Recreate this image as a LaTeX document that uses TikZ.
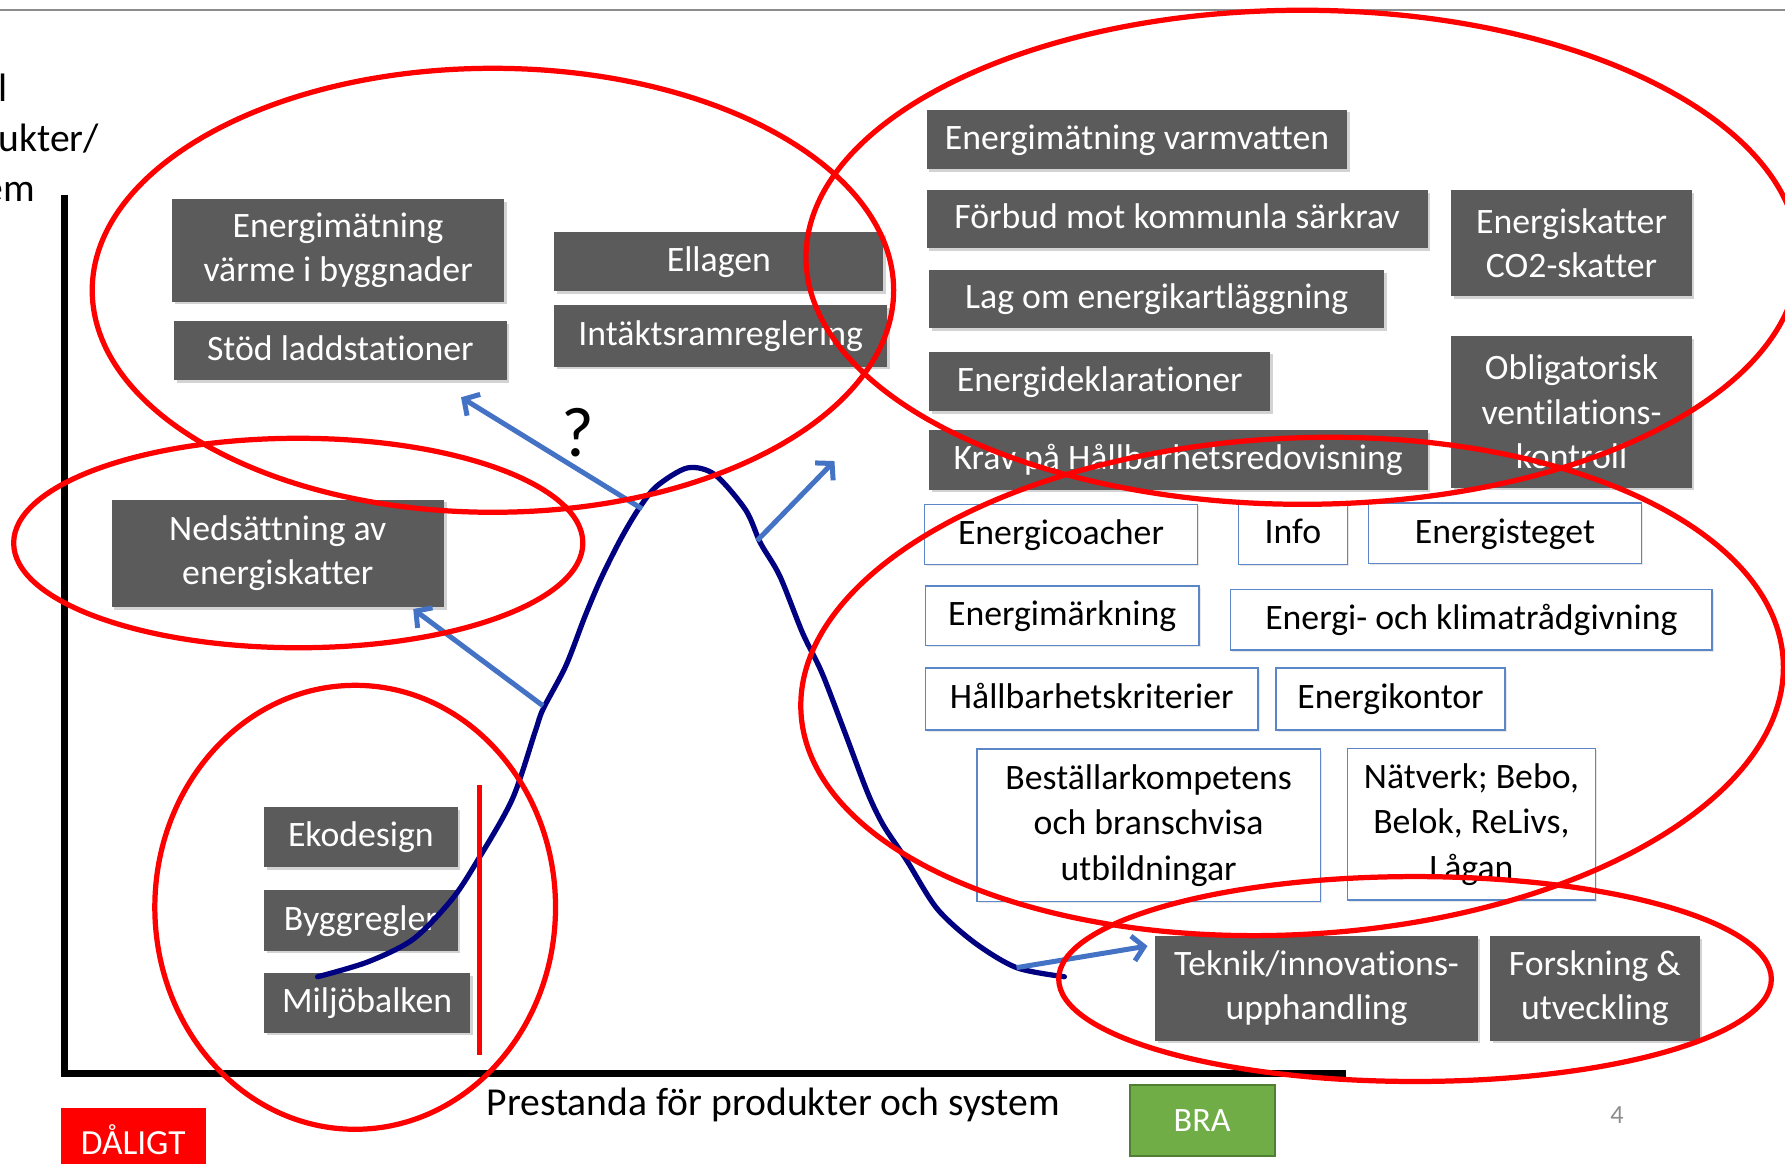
\documentclass[tikz,border=0pt]{standalone}
\usepackage{fontspec}
\setmainfont{Carlito}[Ligatures={NoCommon}]
\usetikzlibrary{shadows,arrows.meta,shapes.geometric}
\definecolor{boxgray}{HTML}{5B5B5B}
\definecolor{boxblue}{HTML}{5B87C8}
\definecolor{arrowblue}{HTML}{4472C4}
\definecolor{curvenavy}{HTML}{000080}
\definecolor{ringred}{HTML}{FF0000}
\definecolor{bragreen}{HTML}{70AD47}
\definecolor{bragreenline}{HTML}{507E32}
\definecolor{topgray}{HTML}{8C8C8C}
\begin{document}
\begin{tikzpicture}[x=0.5pt,y=-0.5pt,
  boxfont/.style={inner sep=0pt, font=\fontsize{15.7}{19.5}\selectfont},
  oneline/.style={text height=11.8pt, text depth=3.3pt},
  lines/.style={align=center},
  darkbox/.style={boxfont, fill=boxgray, text=white,
    drop shadow={shadow xshift=1.2pt, shadow yshift=-1.2pt, opacity=0.35}},
  bluebox/.style={boxfont, font=\fontsize{15.7}{20}\selectfont, fill=white, draw=boxblue, line width=0.7pt, text=black,
    drop shadow={shadow xshift=0.8pt, shadow yshift=-0.8pt, opacity=0.18}},
  ring/.style={ellipse, draw=ringred, line width=2.3pt, inner sep=0pt},
  pointer/.style={draw=arrowblue, line width=2.2pt, -{Straight Barb[length=5pt,width=11pt]}},
  axis/.style={line width=3pt, black},
  labeltext/.style={font=\fontsize{17.4}{22}\selectfont, inner sep=0pt}
]
\useasboundingbox (0,0) rectangle (1568,1022);
\clip (0,0) rectangle (1568,1022);

% top rule
\coordinate (tl) at (0,8.5);
\coordinate (tr) at (1568,8.5);
\draw[topgray, line width=0.8pt] (tl) -- (tr);

% axes
\coordinate (ytop) at (57,171);
\coordinate (origin) at (57,943);
\coordinate (xend) at (1182,943);
\draw[axis] (ytop) -- (origin) -- (xend);

% axis labels
\node[labeltext, anchor=base west] (yl1) at (-68,89) {Antal};
\node[labeltext, anchor=base west] (yl2) at (-68,133) {produkter/};
\node[labeltext, anchor=base west] (yl3) at (-68,177) {system};
\node[labeltext, anchor=base west] (xl) at (427,980) {Prestanda för produkter och system};

% bottom markers
\node[fill=ringred, text=white, inner sep=0pt, minimum width=63.75pt, minimum height=31pt,
  text height=9.8pt, text depth=0pt, font=\fontsize{15.5}{18}\selectfont] (dalig) at (117,1004) {DÅLIGT};
\node[fill=bragreen, draw=bragreenline, line width=0.9pt, text=white, inner sep=0pt,
  minimum width=63.8pt, minimum height=31pt, text height=9.45pt, text depth=0pt,
  font=\fontsize{15}{18}\selectfont] (bra) at (1056,984.5) {BRA};
\node[text=topgray, anchor=base, inner sep=0pt, font=\fontsize{11.5}{14}\selectfont] (pagenr) at (1420.5,987) {4};

% dark boxes
\node[darkbox, lines, minimum width=146pt, minimum height=45pt] (enval) at (297,220) {Energimätning\\värme i byggnader};
\node[darkbox, oneline, minimum width=146pt, minimum height=26pt] (stod) at (299,308) {Stöd laddstationer};
\node[darkbox, oneline, minimum width=144.5pt, minimum height=26pt] (ellagen) at (631.5,230) {Ellagen};
\node[darkbox, oneline, minimum width=146pt, minimum height=27pt] (intakt) at (633,295) {Intäktsramreglering};
\node[darkbox, lines, minimum width=146pt, minimum height=47pt] (nedsatt) at (244,486) {Nedsättning av\\energiskatter};
\node[darkbox, oneline, minimum width=85pt, minimum height=26.5pt] (eko) at (317,735.5) {Ekodesign};
\node[darkbox, oneline, minimum width=85pt, minimum height=26.5pt] (bygg) at (317,808.5) {Byggregler};
\node[darkbox, oneline, minimum width=90.5pt, minimum height=26pt] (miljo) at (322.5,881) {Miljöbalken};
\node[darkbox, oneline, minimum width=184.75pt, minimum height=26.25pt] (varm) at (998.75,122.5) {Energimätning varmvatten};
\node[darkbox, oneline, minimum width=220pt, minimum height=25.5pt] (forbud) at (1034,192.5) {Förbud mot kommunla särkrav};
\node[darkbox, oneline, minimum width=200pt, minimum height=25.5pt] (lag) at (1016,262.5) {Lag om energikartläggning};
\node[darkbox, oneline, minimum width=150pt, minimum height=26pt] (dekl) at (966,335) {Energideklarationer};
\node[darkbox, oneline, minimum width=219pt, minimum height=26pt] (krav) at (1035,404) {Krav på Hållbarhetsredovisning};
\node[darkbox, lines, minimum width=105.5pt, minimum height=46.5pt] (skatt) at (1380.5,213.5) {Energiskatter\\CO2-skatter};
\node[darkbox, lines, minimum width=105.5pt, minimum height=66.5pt] (oblig) at (1380.5,361.75) {Obligatorisk\\ventilations-\\kontroll};
\node[darkbox, lines, minimum width=141.5pt, minimum height=46pt] (teknik) at (1156.5,868) {Teknik/innovations-\\upphandling};
\node[darkbox, lines, minimum width=92pt, minimum height=46pt] (forsk) at (1401,868) {Forskning \&\\utveckling};

% blue-outlined boxes
\node[bluebox, oneline, minimum width=120pt, minimum height=26.5pt] (coach) at (932,469.5) {Energicoacher};
\node[bluebox, oneline, minimum width=47.75pt, minimum height=27pt] (info) at (1135.75,469) {Info};
\node[bluebox, oneline, minimum width=120pt, minimum height=26.5pt] (steget) at (1322,468.5) {Energisteget};
\node[bluebox, oneline, minimum width=120pt, minimum height=26pt] (mark) at (933,541) {Energimärkning};
\node[bluebox, oneline, minimum width=211.5pt, minimum height=26.5pt] (klimat) at (1292.5,544.5) {Energi- och klimatrådgivning};
\node[bluebox, oneline, minimum width=146pt, minimum height=27pt] (kriter) at (959,614) {Hållbarhetskriterier};
\node[bluebox, oneline, minimum width=100.5pt, minimum height=27pt] (kontor) at (1221.5,614) {Energikontor};
\node[bluebox, lines, minimum width=151pt, minimum height=67pt] (bestall) at (1009,725) {Beställarkompetens\\och branschvisa\\utbildningar};
\node[bluebox, lines, minimum width=109pt, minimum height=66.5pt] (natverk) at (1292.5,724) {Nätverk; Bebo,\\Belok, ReLivs,\\Lågan};

% distribution curve
\draw[curvenavy, line width=2.3pt, line cap=round] plot[smooth, tension=0.5] coordinates {
  (279,858) (323,845) (363,825) (397,790) (420,755) (450,702) (470,643) (477,623)
  (497,585) (514,541) (528,508) (545,474) (561,447) (577,427) (604,411) (628,417)
  (655,448) (668,477) (685,506) (705,556) (722,591) (742,643) (762,696) (776,725)
  (796,755) (823,798) (856,828) (893,850) (935,858)};

% red vertical marker
\coordinate (rtop) at (421,690);
\coordinate (rbot) at (421,927);
\draw[ringred, line width=2.4pt] (rtop) -- (rbot);

% blue arrows
\coordinate (a1s) at (564,447); \coordinate (a1e) at (405,349);
\coordinate (a2s) at (477,620); \coordinate (a2e) at (363,535);
\coordinate (a3s) at (665,475); \coordinate (a3e) at (733,405);
\coordinate (a4s) at (893,850); \coordinate (a4e) at (1008,831);
\draw[pointer] (a1s) -- (a1e);
\draw[pointer] (a2s) -- (a2e);
\draw[pointer] (a3s) -- (a3e);
\draw[pointer] (a4s) -- (a4e);

\node[anchor=base, inner sep=0pt, font=\fontsize{31}{36}\selectfont] (q) at (508,401) {?};

% red rings
\node[ring, minimum width=352pt, minimum height=195pt] (e1) at (433,255) {};
\node[ring, minimum width=436pt, minimum height=217pt] (e2) at (1144,226) {};
\node[ring, minimum width=432pt, minimum height=218pt, rotate=3] (e3) at (1135,603) {};
\node[ring, minimum width=313pt, minimum height=90pt] (e4) at (1243,860) {};
\node[ring, minimum width=250pt, minimum height=92pt] (e5) at (262,477) {};
\node[ring, minimum width=176pt, minimum height=195pt] (e6) at (312,797) {};
\end{tikzpicture}
\end{document}
